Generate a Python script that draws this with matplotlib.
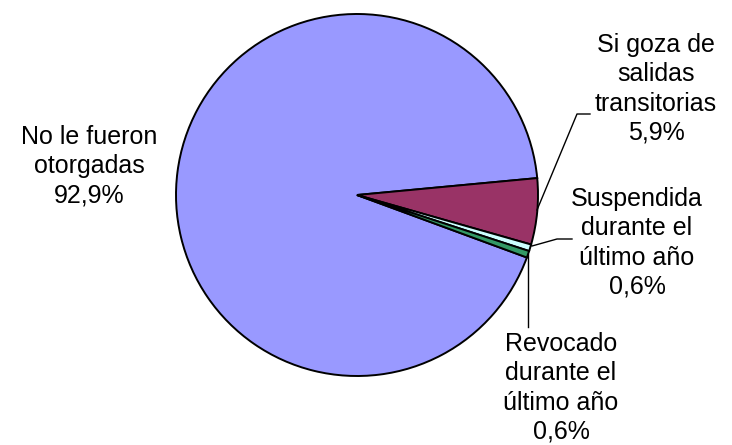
import matplotlib
matplotlib.use("Agg")
import matplotlib.pyplot as plt

# datos del grafico
categorias = ["No le fueron\notorgadas", "Si goza de\nsalidas\ntransitorias",
              "Suspendida\ndurante el\núltimo año", "Revocado\ndurante el\núltimo año"]
porcentajes = [92.9, 5.9, 0.6, 0.6]
colores = ["#9999FF", "#993366", "#CCFFFF", "#339966"]

plt.rcParams['font.family'] = ['Liberation Sans', 'DejaVu Sans']

W, H = 732, 445
fig = plt.figure(figsize=(W / 100, H / 100), dpi=100)
ax = fig.add_axes([0, 0, 1, 1])

# centro y radio en pixeles (y desde arriba)
cx, cy, r = 357, 195, 181

ax.pie(porcentajes, colors=colores, startangle=-20.2, counterclock=False,
       center=(cx, H - cy), radius=r, frame=True,
       wedgeprops=dict(edgecolor='black', linewidth=1.4))
ax.set_xlim(0, W)
ax.set_ylim(0, H)
ax.set_aspect('equal')
ax.axis('off')

# etiquetas: texto + porcentaje
pos_texto = [(89, 166), (656, 89), (637, 243), (561, 388)]
for cat, val, (tx, ty) in zip(categorias, porcentajes, pos_texto):
    etiqueta = f"{cat}\n{val:.1f}%".replace(".", ",")
    ax.text(tx, H - ty, etiqueta, ha='center', va='center', fontsize=18,
            linespacing=1.27)

# lineas guia
lineas = [
    [(537, 210), (577, 114), (590, 114)],
    [(532, 246), (557, 239), (572, 239)],
    [(528, 254), (528, 327)],
]
for ln in lineas:
    xs = [p[0] for p in ln]
    ys = [H - p[1] for p in ln]
    ax.plot(xs, ys, color='black', linewidth=1.0)

fig.savefig("out.png", dpi=100)
